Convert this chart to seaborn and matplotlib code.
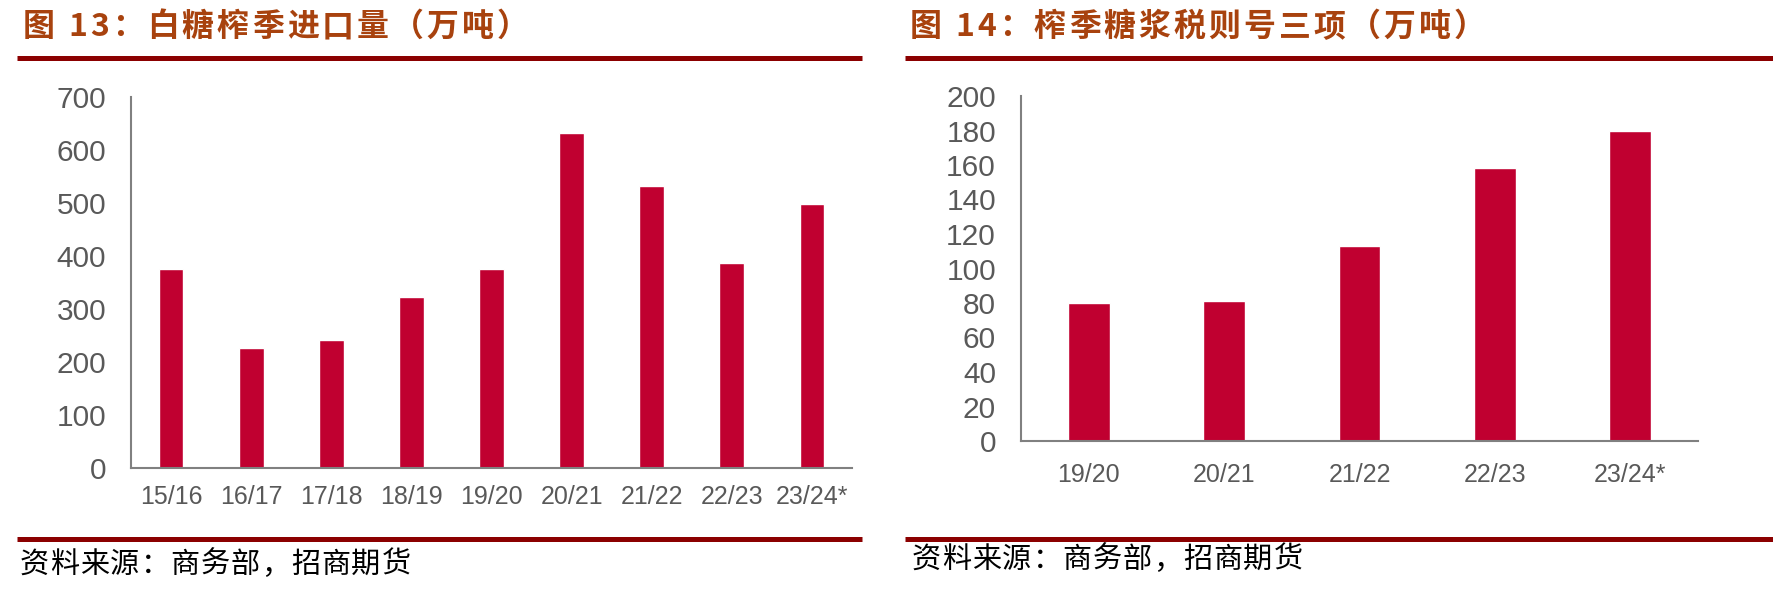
import numpy as np
import pandas as pd
import matplotlib
matplotlib.use("Agg")
import matplotlib.pyplot as plt
from matplotlib.lines import Line2D
import seaborn as sns

# ---- data ----
left_categories = ["15/16", "16/17", "17/18", "18/19", "19/20", "20/21", "21/22", "22/23", "23/24*"]
left_values = [375, 227, 242, 323, 375, 633, 532, 387, 499]
left_yticks = [0, 100, 200, 300, 400, 500, 600, 700]

right_categories = ["19/20", "20/21", "21/22", "22/23", "23/24*"]
right_values = [80, 81, 113, 158, 180]
right_yticks = [0, 20, 40, 60, 80, 100, 120, 140, 160, 180, 200]

left_title = ["图", "13：白糖榨季进口量（万吨）"]
right_title = ["图", "14：榨季糖浆税则号三项（万吨）"]
source_text = "资料来源：商务部，招商期货"

# ---- style ----
sns.set_theme(style="white")
plt.rcParams['font.family'] = ['Liberation Sans', 'DejaVu Sans']

BAR = "#C00030"
AXIS = "#808080"
TICKC = "#595959"
TITLEC = "#A8420E"
RULE = "#8B0000"
CJK = ['Noto Sans CJK SC', 'DejaVu Sans']
NARROW = ['Liberation Sans Narrow', 'Liberation Sans', 'DejaVu Sans']

W, H = 1773, 591
fig = plt.figure(figsize=(W / 100, H / 100), dpi=100)
renderer = fig.canvas.get_renderer()


def px_axes(x0, x1, ybase, ytop):
    return fig.add_axes([x0 / W, 1 - ybase / H, (x1 - x0) / W, (ybase - ytop) / H])


def spaced_text(x_px, y_px, s, spacing_px, **kw):
    """Draw a string char by char with extra letter spacing (pixels); returns end x."""
    x = x_px
    for ch in s:
        t = fig.text(x / W, 1 - y_px / H, ch, ha='left', va='center', **kw)
        bb = t.get_window_extent(renderer=renderer)
        x += bb.width + spacing_px
    return x


def style_axes(ax, cats, vals, yticks, xpad):
    df = pd.DataFrame({"cat": cats, "val": vals})
    sns.barplot(data=df, x="cat", y="val", color=BAR, saturation=1, width=0.31, ax=ax)
    n = len(cats)
    ax.set_xlim(-0.5, n - 0.5)
    ax.set_ylim(yticks[0], yticks[-1])
    ax.set_yticks(yticks)
    ax.set_yticklabels([str(t) for t in yticks], family=NARROW, fontsize=21.5, color=TICKC)
    ax.set_xticks(range(n))
    ax.set_xticklabels(cats, fontsize=18, color=TICKC)
    ax.set_xticks(np.arange(-0.5, n, 1.0), minor=True)
    ax.tick_params(axis='x', which='major', length=0, pad=xpad)
    ax.tick_params(axis='x', which='minor', length=6, width=1.5, color=AXIS, direction='out')
    ax.tick_params(axis='y', which='major', length=6, width=1.5, color=AXIS, direction='out', pad=12)
    ax.set_xlabel("")
    ax.set_ylabel("")
    for s in ["top", "right"]:
        ax.spines[s].set_visible(False)
    for s in ["left", "bottom"]:
        ax.spines[s].set_color(AXIS)
        ax.spines[s].set_linewidth(1.5)
    ax.grid(False)
    ax.set_facecolor("white")


axL = px_axes(131, 852, 468, 97)
style_axes(axL, left_categories, left_values, left_yticks, xpad=12)

axR = px_axes(1021, 1698, 441, 96)
style_axes(axR, right_categories, right_values, right_yticks, xpad=16)

# ---- titles, rules, sources ----
tkw = dict(family=CJK, fontsize=23, fontweight='bold', color=TITLEC)
spaced_text(23, 27, left_title[0], 0, **tkw)
spaced_text(68, 27, left_title[1], 3, **tkw)
spaced_text(910, 27, right_title[0], 0, **tkw)
spaced_text(955, 27, right_title[1], 3, **tkw)

for (x0, x1, y) in [(17, 862, 57.5), (905, 1773, 57.5), (17, 862, 539), (905, 1773, 538.5)]:
    fig.add_artist(Line2D([x0 / W, x1 / W], [1 - y / H, 1 - y / H], transform=fig.transFigure,
                          color=RULE, linewidth=3.6, solid_capstyle='butt'))

skw = dict(family=CJK, fontsize=21, color='black')
spaced_text(20, 565, source_text, 1, **skw)
spaced_text(912, 560, source_text, 1, **skw)

fig.savefig("out.png", dpi=100, facecolor='white')
